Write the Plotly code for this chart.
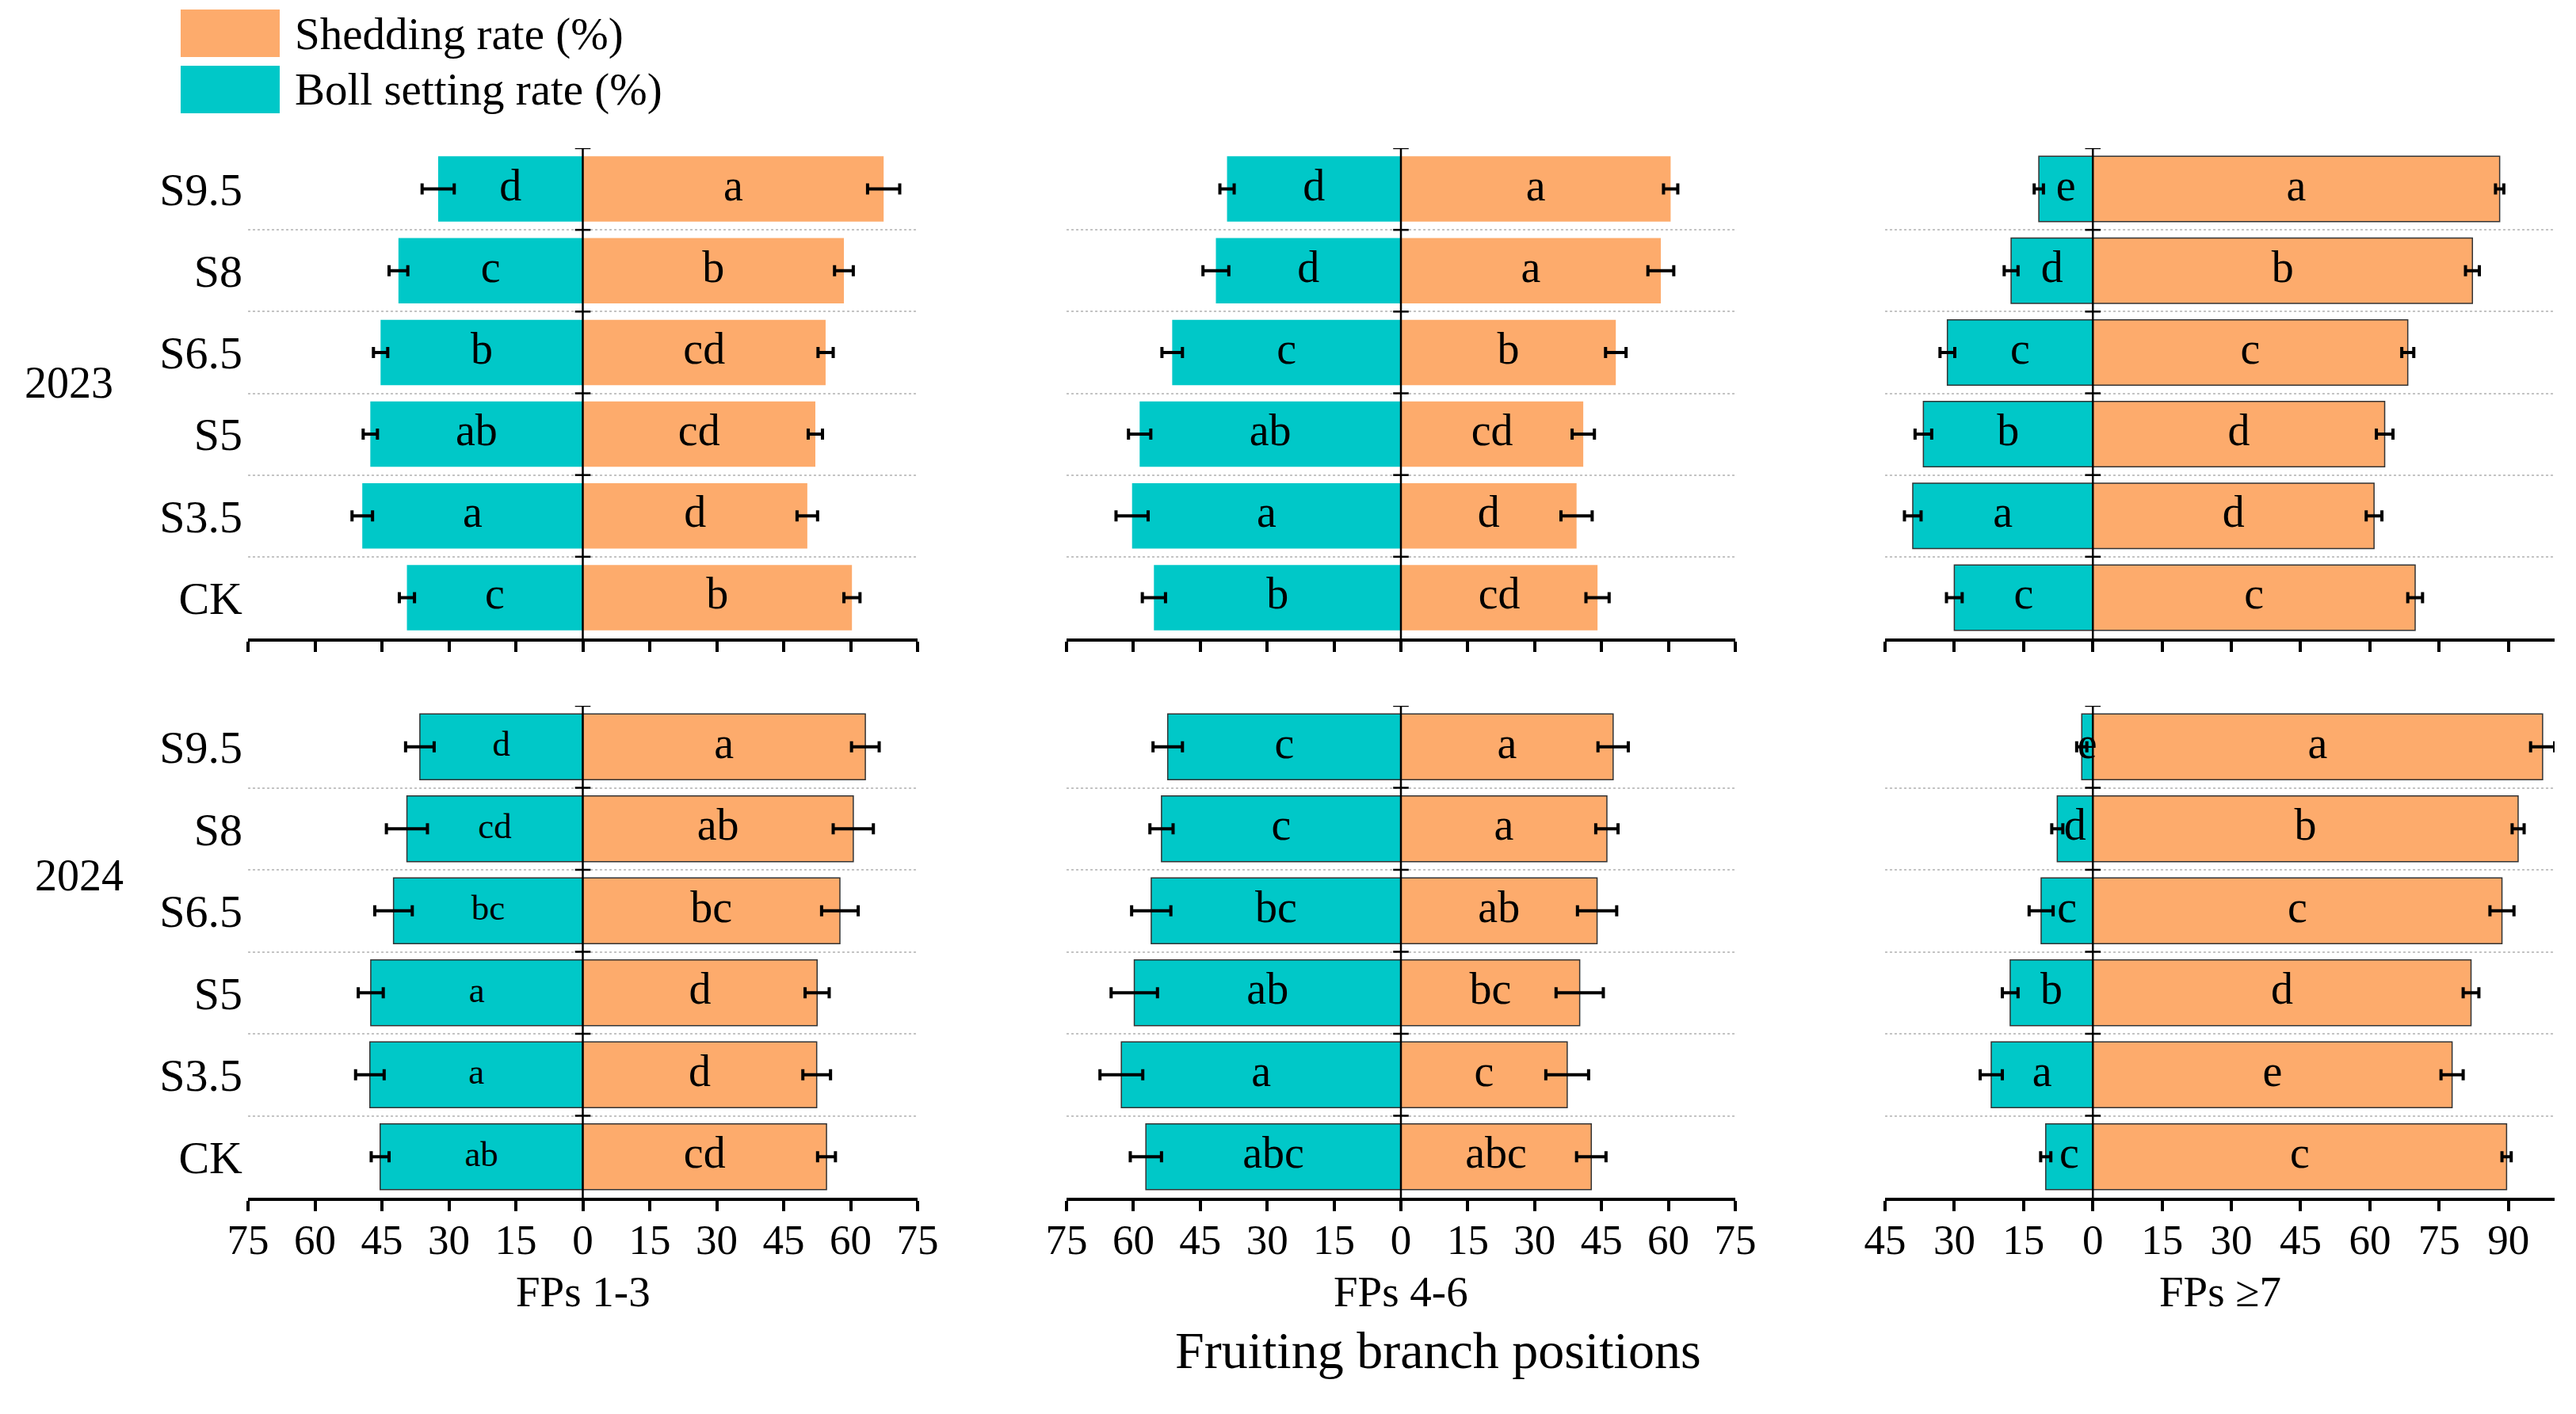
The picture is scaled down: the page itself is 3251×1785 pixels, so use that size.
import plotly.graph_objects as go

# treatments, top to bottom
treatments = ['S9.5', 'S8', 'S6.5', 'S5', 'S3.5', 'CK']
years = ['2023', '2024']
positions = ['FPs 1-3', 'FPs 4-6', 'FPs \u22657']

# boll setting rate (%) by year and fruiting branch position
boll_2023_fp13 = [32.4, 41.3, 45.3, 47.6, 49.4, 39.4]
boll_2023_fp13_err = [3.6, 2.1, 1.6, 1.6, 2.3, 1.7]
boll_2023_fp46 = [39.0, 41.5, 51.3, 58.6, 60.3, 55.4]
boll_2023_fp46_err = [1.6, 2.9, 2.3, 2.5, 3.6, 2.6]
boll_2023_fp7 = [11.7, 17.7, 31.5, 36.7, 39.0, 30.0]
boll_2023_fp7_err = [1.0, 1.5, 1.6, 1.8, 1.8, 1.7]
boll_2024_fp13 = [36.5, 39.4, 42.4, 47.5, 47.7, 45.4]
boll_2024_fp13_err = [3.2, 4.6, 4.2, 2.8, 3.2, 2.0]
boll_2024_fp46 = [52.3, 53.7, 56.0, 59.8, 62.7, 57.2]
boll_2024_fp46_err = [3.3, 2.6, 4.4, 5.2, 4.8, 3.5]
boll_2024_fp7 = [2.4, 7.7, 11.2, 17.9, 22.0, 10.2]
boll_2024_fp7_err = [1.1, 1.2, 2.6, 1.7, 2.4, 1.1]

# shedding rate (%)
shed_2023_fp13 = [67.4, 58.5, 54.4, 52.1, 50.3, 60.3]
shed_2023_fp13_err = [3.6, 2.1, 1.7, 1.6, 2.3, 1.8]
shed_2023_fp46 = [60.5, 58.3, 48.2, 40.9, 39.4, 44.1]
shed_2023_fp46_err = [1.6, 2.9, 2.3, 2.5, 3.5, 2.6]
shed_2023_fp7 = [88.1, 82.2, 68.2, 63.2, 60.9, 69.8]
shed_2023_fp7_err = [0.9, 1.5, 1.3, 1.8, 1.7, 1.6]
shed_2024_fp13 = [63.3, 60.6, 57.6, 52.5, 52.4, 54.6]
shed_2024_fp13_err = [3.1, 4.5, 4.1, 2.7, 3.1, 2.0]
shed_2024_fp46 = [47.6, 46.2, 44.0, 40.1, 37.3, 42.7]
shed_2024_fp46_err = [3.4, 2.5, 4.4, 5.3, 4.8, 3.3]
shed_2024_fp7 = [97.4, 92.1, 88.6, 81.9, 77.8, 89.6]
shed_2024_fp7_err = [2.6, 1.3, 2.6, 1.7, 2.4, 1.0]

# significance letters
boll_2023_fp13_sig = ['d', 'c', 'b', 'ab', 'a', 'c']
boll_2023_fp46_sig = ['d', 'd', 'c', 'ab', 'a', 'b']
boll_2023_fp7_sig = ['e', 'd', 'c', 'b', 'a', 'c']
boll_2024_fp13_sig = ['d', 'cd', 'bc', 'a', 'a', 'ab']
boll_2024_fp46_sig = ['c', 'c', 'bc', 'ab', 'a', 'abc']
boll_2024_fp7_sig = ['e', 'd', 'c', 'b', 'a', 'c']
shed_2023_fp13_sig = ['a', 'b', 'cd', 'cd', 'd', 'b']
shed_2023_fp46_sig = ['a', 'a', 'b', 'cd', 'd', 'cd']
shed_2023_fp7_sig = ['a', 'b', 'c', 'd', 'd', 'c']
shed_2024_fp13_sig = ['a', 'ab', 'bc', 'd', 'd', 'cd']
shed_2024_fp46_sig = ['a', 'a', 'ab', 'bc', 'c', 'abc']
shed_2024_fp7_sig = ['a', 'b', 'c', 'd', 'e', 'c']

# x tick values per column
ticks_fp13 = [-75, -60, -45, -30, -15, 0, 15, 30, 45, 60, 75]
ticks_fp46 = [-75, -60, -45, -30, -15, 0, 15, 30, 45, 60, 75]
ticks_fp7 = [-45, -30, -15, 0, 15, 30, 45, 60, 75, 90]

panels = [
    # (row, col, boll, boll_err, boll_sig, shed, shed_err, shed_sig)
    (0, 0, boll_2023_fp13, boll_2023_fp13_err, boll_2023_fp13_sig, shed_2023_fp13, shed_2023_fp13_err, shed_2023_fp13_sig),
    (0, 1, boll_2023_fp46, boll_2023_fp46_err, boll_2023_fp46_sig, shed_2023_fp46, shed_2023_fp46_err, shed_2023_fp46_sig),
    (0, 2, boll_2023_fp7, boll_2023_fp7_err, boll_2023_fp7_sig, shed_2023_fp7, shed_2023_fp7_err, shed_2023_fp7_sig),
    (1, 0, boll_2024_fp13, boll_2024_fp13_err, boll_2024_fp13_sig, shed_2024_fp13, shed_2024_fp13_err, shed_2024_fp13_sig),
    (1, 1, boll_2024_fp46, boll_2024_fp46_err, boll_2024_fp46_sig, shed_2024_fp46, shed_2024_fp46_err, shed_2024_fp46_sig),
    (1, 2, boll_2024_fp7, boll_2024_fp7_err, boll_2024_fp7_sig, shed_2024_fp7, shed_2024_fp7_err, shed_2024_fp7_sig),
]
col_ticks = [ticks_fp13, ticks_fp46, ticks_fp7]
col_ranges = [[-75, 75], [-75, 75], [-45, 100]]

# the page body has an 8px margin, so the figure is a bit smaller than the window
OFF = 8
W, H = 3251 - 2 * OFF, 1785 - 2 * OFF
SHED = '#FDAB6C'
BOLL = '#00C8C8'
FONT = 'Liberation Serif'


def px_x(p):
    return (p - OFF) / W


def px_y(p):
    return 1 - (p - OFF) / H


# panel frames in window pixels
col_px = [(313, 1158), (1346, 2190), (2379, 3224)]
row_px = [(187, 806), (891, 1512)]

n = len(treatments)
ypos = list(range(n))[::-1]
bounds = [i + 0.5 for i in range(n)]

fig = go.Figure()
layout = {}
shapes = []

for k, (row, col, boll, boll_err, boll_sig, shed, shed_err, shed_sig) in enumerate(panels):
    ax = '' if k == 0 else str(k + 1)
    xa, ya = 'x' + ax, 'y' + ax
    outline = 0 if (row == 0 and col < 2) else 1.5
    sig_size = 45 if (row == 1 and col == 0) else 56

    fig.add_trace(go.Bar(
        x=[-v for v in boll], y=ypos, orientation='h', xaxis=xa, yaxis=ya,
        marker=dict(color=BOLL, line=dict(color='#333333', width=outline)),
        error_x=dict(type='data', array=boll_err, color='black', thickness=4, width=7),
        width=0.8, showlegend=False, name='Boll setting rate (%)'))
    fig.add_trace(go.Bar(
        x=shed, y=ypos, orientation='h', xaxis=xa, yaxis=ya,
        marker=dict(color=SHED, line=dict(color='#333333', width=outline)),
        error_x=dict(type='data', array=shed_err, color='black', thickness=4, width=7),
        width=0.8, showlegend=False, name='Shedding rate (%)'))

    # letters in the middle of each bar
    fig.add_trace(go.Scatter(
        x=[-v / 2 for v in boll], y=ypos, mode='text', text=boll_sig, xaxis=xa, yaxis=ya,
        textfont=dict(family=FONT, size=sig_size, color='black'), showlegend=False, hoverinfo='skip'))
    fig.add_trace(go.Scatter(
        x=[v / 2 for v in shed], y=ypos, mode='text', text=shed_sig, xaxis=xa, yaxis=ya,
        textfont=dict(family=FONT, size=56, color='black'), showlegend=False, hoverinfo='skip'))

    # little ticks on the centre line
    fig.add_trace(go.Scatter(
        x=[0] * len(bounds), y=bounds, mode='markers', xaxis=xa, yaxis=ya,
        marker=dict(symbol='line-ew', size=14, line=dict(color='black', width=2.5)),
        showlegend=False, hoverinfo='skip'))

    shapes.append(dict(type='line', xref=xa, yref=ya + ' domain', x0=0, x1=0, y0=0, y1=1,
                       line=dict(color='black', width=2.5), layer='above'))

    ticks = col_ticks[col]
    layout['xaxis' + ax] = dict(
        domain=[px_x(col_px[col][0]), px_x(col_px[col][1])], anchor=ya, automargin=False,
        range=col_ranges[col], tickvals=ticks, ticktext=[str(abs(t)) for t in ticks],
        showticklabels=(row == 1), showline=True, linecolor='black', linewidth=4,
        ticks='outside', ticklen=13, tickwidth=3.5, tickcolor='black', ticklabelstandoff=-10,
        showgrid=False, zeroline=False,
        tickfont=dict(family=FONT, size=53, color='black'))
    layout['yaxis' + ax] = dict(
        domain=[px_y(row_px[row][1]), px_y(row_px[row][0])], anchor=xa, automargin=False,
        range=[-0.5, n - 0.5], tickvals=ypos, ticktext=treatments,
        showticklabels=(col == 0), ticks='', showline=False, showgrid=False, zeroline=False,
        ticklabelstandoff=6,
        minor=dict(tickvals=bounds[:-1], showgrid=True, gridcolor='#c4c4c4', gridwidth=1.5,
                   griddash='dot', ticks=''),
        tickfont=dict(family=FONT, size=58, color='black'))


def label(text, x, y, size, xanchor='center'):
    return dict(text=text, x=px_x(x), y=px_y(y), xref='paper', yref='paper',
                xanchor=xanchor, yanchor='middle', showarrow=False,
                font=dict(family=FONT, size=size, color='black'))


annotations = []
# year labels
annotations.append(label(years[0], 87, 483, 56))
annotations.append(label(years[1], 100, 1105, 56))
# column titles
for col, name in enumerate(positions):
    annotations.append(label(name, (col_px[col][0] + col_px[col][1]) / 2, 1630, 55))
annotations.append(label('Fruiting branch positions', 1815, 1704, 66))

# legend drawn by hand so the swatches are big
shapes.append(dict(type='rect', xref='paper', yref='paper', x0=px_x(228), x1=px_x(353),
                   y0=px_y(72), y1=px_y(12), fillcolor=SHED, line=dict(width=0)))
shapes.append(dict(type='rect', xref='paper', yref='paper', x0=px_x(228), x1=px_x(353),
                   y0=px_y(143), y1=px_y(83), fillcolor=BOLL, line=dict(width=0)))
annotations.append(label('Shedding rate (%)', 370, 43, 57, xanchor='left'))
annotations.append(label('Boll setting rate (%)', 370, 113, 57, xanchor='left'))

fig.update_layout(layout)
fig.update_layout(
    {'plot_bgcolor': '#FFFFFF', 'paper_bgcolor': '#FFFFFF'},
    width=W, height=H, margin=dict(l=0, r=0, t=0, b=0, autoexpand=False),
    barmode='relative', showlegend=False,
    font_family=FONT, font_color='black',
    shapes=shapes, annotations=annotations)

fig.write_html('out.html')
